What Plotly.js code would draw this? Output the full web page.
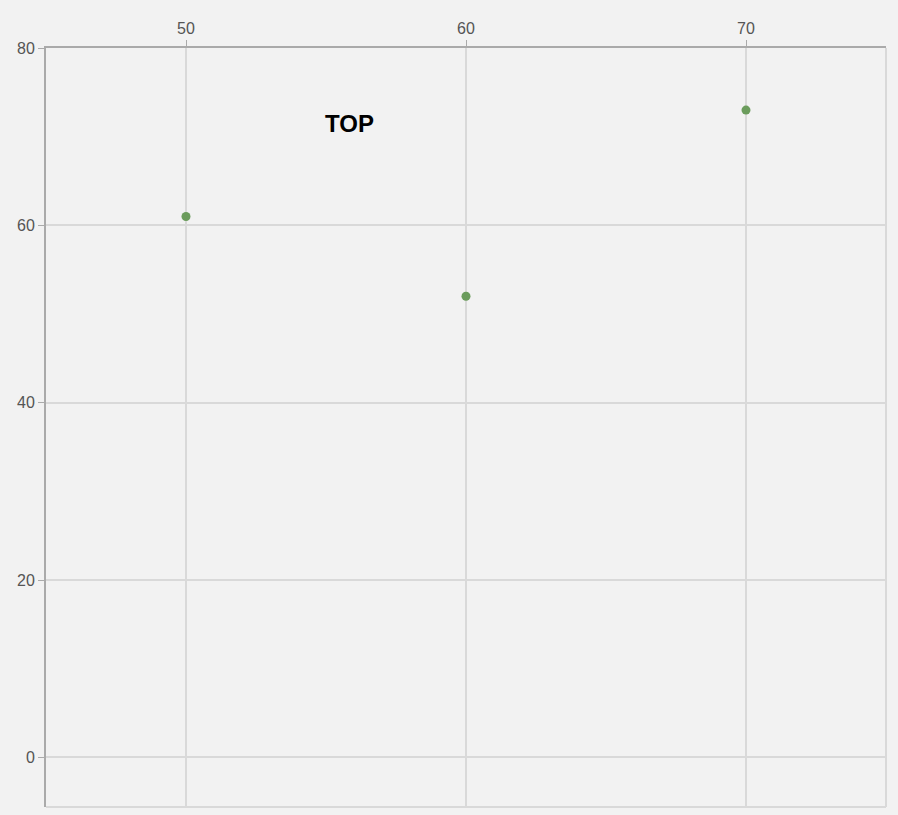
<!DOCTYPE html>
<html>
<head>
<meta charset="utf-8">
<script src="https://cdn.plot.ly/plotly-3.0.1.min.js"></script>
<style>
  html, body { margin: 0; padding: 0; background: #f2f2f2; }
  #chart { width: 898px; height: 815px; }
</style>
</head>
<body>
<div id="chart"></div>
<script>
// scatter values
const xValues = [50, 60, 70];
const yValues = [61, 52, 73];

const xTicks = [50, 60, 70];
const yTicks = [0, 20, 40, 60, 80];

const labelText = "TOP";
const labelAt = { x: 55.85, y: 71.45 };

const BG = "#f2f2f2";
const GRID = "#d9d9d9";
const AXIS = "#aaaaaa";

const trace = {
  x: xValues,
  y: yValues,
  type: "scatter",
  mode: "markers",
  marker: { color: "#6b9c5c", size: 9 },
  hoverinfo: "x+y",
};

const layout = {
  width: 898,
  height: 815,
  margin: { t: 48, r: 12, b: 8, l: 46 },
  paper_bgcolor: BG,
  plot_bgcolor: BG,
  font: { family: "'Liberation Sans', Arial, sans-serif", size: 16, color: "#555" },
  showlegend: false,
  xaxis: {
    side: "top",
    range: [45, 75],
    tickvals: xTicks,
    ticks: "outside",
    ticklen: 6,
    tickcolor: AXIS,
    showline: true,
    linecolor: AXIS,
    linewidth: 2,
    gridcolor: GRID,
    gridwidth: 1.5,
    zeroline: false,
  },
  yaxis: {
    range: [-5.6, 80],
    tickvals: yTicks,
    ticks: "outside",
    ticklen: 6,
    tickcolor: AXIS,
    showline: true,
    linecolor: AXIS,
    linewidth: 2,
    gridcolor: GRID,
    gridwidth: 1.5,
    zeroline: false,
  },
  // light frame on the bottom and right edges
  shapes: [
    {
      type: "line", xref: "paper", yref: "paper",
      x0: 0, x1: 1, y0: 0, y1: 0,
      line: { color: GRID, width: 2 },
    },
    {
      type: "line", xref: "paper", yref: "paper",
      x0: 1, x1: 1, y0: 0, y1: 1,
      line: { color: GRID, width: 2 },
    },
  ],
  annotations: [
    {
      x: labelAt.x,
      y: labelAt.y,
      text: "<b>" + labelText + "</b>",
      showarrow: false,
      font: { size: 24, color: "#000" },
    },
  ],
};

Plotly.newPlot("chart", [trace], layout, { displayModeBar: false });
</script>
</body>
</html>
